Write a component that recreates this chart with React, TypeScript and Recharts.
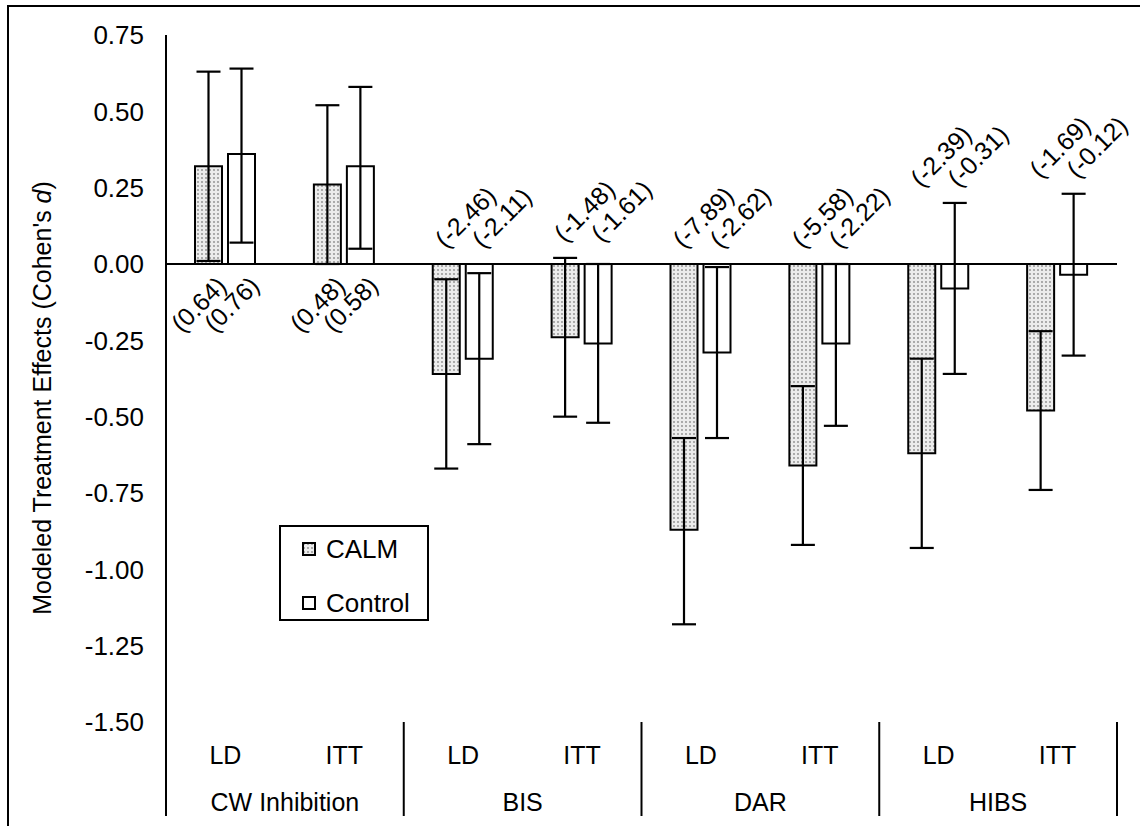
import React from 'react';
import { BarChart, Bar, XAxis, YAxis, ErrorBar, ReferenceLine, Legend, LabelList, Label } from 'recharts';

// categories
const subgroups = ['LD', 'ITT', 'LD', 'ITT', 'LD', 'ITT', 'LD', 'ITT'];
const measures = ['CW Inhibition', 'BIS', 'DAR', 'HIBS'];

// CALM effect sizes and CI bounds
const calmMean = [0.32, 0.26, -0.36, -0.24, -0.87, -0.66, -0.62, -0.48];
const calmLow = [0.01, 0.0, -0.67, -0.5, -1.18, -0.92, -0.93, -0.74];
const calmHigh = [0.63, 0.52, -0.05, 0.02, -0.57, -0.4, -0.31, -0.22];
const calmStat = ['(0.64)', '(0.48)', '(-2.46)', '(-1.48)', '(-7.89)', '(-5.58)', '(-2.39)', '(-1.69)'];

// Control effect sizes and CI bounds
const ctrlMean = [0.36, 0.32, -0.31, -0.26, -0.29, -0.26, -0.08, -0.035];
const ctrlLow = [0.07, 0.05, -0.59, -0.52, -0.57, -0.53, -0.36, -0.3];
const ctrlHigh = [0.64, 0.58, -0.03, 0.0, -0.01, 0.0, 0.2, 0.23];
const ctrlStat = ['(0.76)', '(0.58)', '(-2.11)', '(-1.61)', '(-2.62)', '(-2.22)', '(-0.31)', '(-0.12)'];

const yTicks = [0.75, 0.5, 0.25, 0, -0.25, -0.5, -0.75, -1, -1.25, -1.5];

const data = subgroups.map((sub, i) => ({
  key: `${measures[Math.floor(i / 2)]} ${sub}`,
  calm: calmMean[i],
  calmErr: [calmMean[i] - calmLow[i], calmHigh[i] - calmMean[i]],
  calmStat: calmStat[i],
  control: ctrlMean[i],
  controlErr: [ctrlMean[i] - ctrlLow[i], ctrlHigh[i] - ctrlMean[i]],
  controlStat: ctrlStat[i],
}));

const FONT = '"Liberation Sans", Arial, sans-serif';
const W = 1140;
const H = 826;
const PLOT_LEFT = 166;
const PLOT_RIGHT = 1117;
const PLOT_BOTTOM = 722;
const CAT_W = (PLOT_RIGHT - PLOT_LEFT) / subgroups.length;

function CategoryTick(props: any) {
  const { x, index } = props;
  const half = CAT_W / 2;
  return (
    <g>
      <text x={x} y={755} textAnchor="middle" dominantBaseline="central" fontSize={25} fill="#000">
        {subgroups[index]}
      </text>
      {index % 2 === 0 && (
        <>
          <line x1={x - half} x2={x - half} y1={PLOT_BOTTOM} y2={816} stroke="#000" strokeWidth={2} />
          <text x={x + half} y={802} textAnchor="middle" dominantBaseline="central" fontSize={25} fill="#000">
            {measures[index / 2]}
          </text>
        </>
      )}
      {index === subgroups.length - 1 && (
        <line x1={x + half} x2={x + half} y1={PLOT_BOTTOM} y2={816} stroke="#000" strokeWidth={2} />
      )}
    </g>
  );
}

const makeStatLabel = (series: 'calm' | 'control') => (props: any) => {
  const vb = props.viewBox ?? props;
  const { x, y, width, height } = vb;
  const i = props.index;
  if (i == null || x == null) return null;
  const v = series === 'calm' ? calmMean[i] : ctrlMean[i];
  const top = Math.min(y, y + height);
  const bottom = Math.max(y, y + height);
  const ppu = Math.abs(height) / Math.abs(v);
  const zeroY = v >= 0 ? bottom : top;
  const cx = x + width / 2;
  const text = series === 'calm' ? calmStat[i] : ctrlStat[i];
  let px: number;
  let py: number;
  let anchor: 'start' | 'end';
  if (v >= 0) {
    px = cx + 13;
    py = zeroY + 17;
    anchor = 'end';
  } else {
    const a = Math.max(0, calmHigh[i], ctrlHigh[i]);
    px = cx - (series === 'calm' ? 7 : 3);
    py = zeroY - a * ppu - 21;
    anchor = 'start';
  }
  return (
    <text
      x={px}
      y={py}
      transform={`rotate(-45 ${px} ${py})`}
      textAnchor={anchor}
      dominantBaseline="central"
      fontSize={25}
      fill="#000"
    >
      {text}
    </text>
  );
};

function YTitle() {
  return (
    <text x={42} y={398} transform="rotate(-90 42 398)" textAnchor="middle" dominantBaseline="central" fontSize={25} fill="#000">
      Modeled Treatment Effects (Cohen's <tspan fontStyle="italic">d</tspan>)
    </text>
  );
}

function DotSwatch({ dotted }: { dotted: boolean }) {
  return (
    <svg width={14} height={14} style={{ display: 'block' }}>
      <defs>
        <pattern id="legendDots" width={4} height={4} patternUnits="userSpaceOnUse">
          <rect width={4} height={4} fill="#ececec" />
          <circle cx={2} cy={2} r={0.9} fill="#8c8c8c" />
        </pattern>
      </defs>
      <rect x={1} y={1} width={12} height={12} fill={dotted ? 'url(#legendDots)' : '#fff'} stroke="#000" strokeWidth={2} />
    </svg>
  );
}

function LegendBox() {
  const rows = [
    { name: 'CALM', dotted: true },
    { name: 'Control', dotted: false },
  ];
  return (
    <div
      style={{
        border: '2px solid #000',
        background: '#fff',
        width: 146,
        height: 92,
        boxSizing: 'content-box',
        fontFamily: FONT,
        fontSize: 26,
        color: '#000',
      }}
    >
      {rows.map((r, i) => (
        <div key={r.name} style={{ display: 'flex', alignItems: 'center', height: 30, marginTop: i === 0 ? 7 : 24, paddingLeft: 21 }}>
          <DotSwatch dotted={r.dotted} />
          <span style={{ marginLeft: 10 }}>{r.name}</span>
        </div>
      ))}
    </div>
  );
}

export default function App() {
  return (
    <div style={{ position: 'absolute', left: 0, top: 0, width: W, height: H, background: '#fff', overflow: 'hidden', fontFamily: FONT }}>
      <div style={{ position: 'absolute', left: 7, top: 5, width: 2000, height: 2000, borderTop: '2px solid #000', borderLeft: '2px solid #000' }} />
      <div style={{ position: 'absolute', left: 0, top: 0 }}>
        <BarChart
          width={W}
          height={H}
          data={data}
          margin={{ top: 35, right: W - PLOT_RIGHT, left: 80, bottom: 10 }}
          barSize={27}
          barGap={6}
        >
          <defs>
            <pattern id="calmDots" width={4} height={4} patternUnits="userSpaceOnUse">
              <rect width={4} height={4} fill="#ececec" />
              <circle cx={2} cy={2} r={0.9} fill="#8c8c8c" />
            </pattern>
          </defs>
          <XAxis
            dataKey="key"
            height={94}
            axisLine={false}
            tickLine={false}
            interval={0}
            tick={<CategoryTick />}
          />
          <YAxis
            width={86}
            domain={[-1.5, 0.75]}
            ticks={yTicks}
            type="number"
            allowDataOverflow
            axisLine={{ stroke: '#000', strokeWidth: 2 }}
            tickLine={false}
            tickSize={0}
            tickMargin={22}
            tick={{ fill: '#000', fontSize: 26 }}
            tickFormatter={(v: number) => v.toFixed(2)}
          >
            <Label content={<YTitle />} />
          </YAxis>
          <ReferenceLine y={0} stroke="#000" strokeWidth={2} />
          <Bar dataKey="calm" name="CALM" fill="url(#calmDots)" stroke="#000" strokeWidth={2} isAnimationActive={false}>
            <ErrorBar dataKey="calmErr" width={12} strokeWidth={2.2} stroke="#000" direction="y" />
            <LabelList dataKey="calmStat" content={makeStatLabel('calm')} />
          </Bar>
          <Bar dataKey="control" name="Control" fill="#fff" stroke="#000" strokeWidth={2} isAnimationActive={false}>
            <ErrorBar dataKey="controlErr" width={12} strokeWidth={2.2} stroke="#000" direction="y" />
            <LabelList dataKey="controlStat" content={makeStatLabel('control')} />
          </Bar>
          <Legend
            layout="vertical"
            align="center"
            verticalAlign="middle"
            content={<LegendBox />}
            wrapperStyle={{ position: 'absolute', left: 279, top: 525, width: 'auto' }}
          />
        </BarChart>
      </div>
    </div>
  );
}
